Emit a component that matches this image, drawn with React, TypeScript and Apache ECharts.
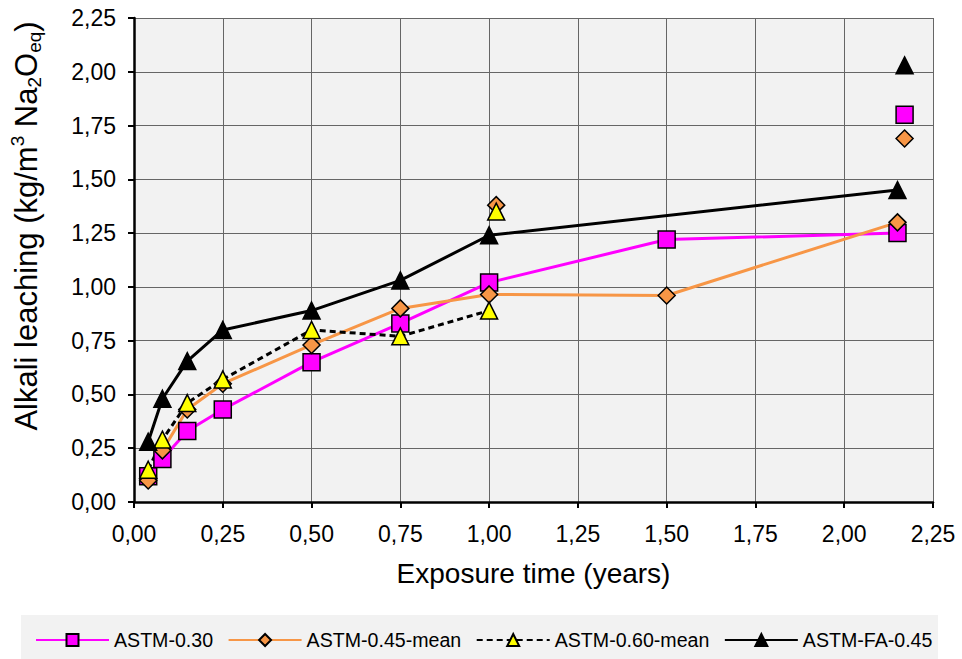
import React, { useEffect, useRef } from "react";
import * as echarts from "echarts";

// ---- Data ----
const tickLabels = ["0,00", "0,25", "0,50", "0,75", "1,00", "1,25", "1,50", "1,75", "2,00", "2,25"];

const timesA = [0.04, 0.08, 0.15, 0.25, 0.5, 0.75, 1.0, 1.5, 2.15];
const astm030 = [0.12, 0.2, 0.33, 0.43, 0.65, 0.83, 1.02, 1.22, 1.25];
const astm045 = [0.1, 0.24, 0.43, 0.55, 0.73, 0.9, 0.965, 0.96, 1.3];

const timesB = [0.04, 0.08, 0.15, 0.25, 0.5, 0.75, 1.0];
const astm060 = [0.15, 0.29, 0.46, 0.57, 0.8, 0.77, 0.89];

const timesC = [0.04, 0.08, 0.15, 0.25, 0.5, 0.75, 1.0, 2.15];
const astmFA = [0.28, 0.48, 0.655, 0.8, 0.89, 1.03, 1.24, 1.45];

// isolated (unconnected) points
const extra030X = [2.17];
const extra030Y = [1.8];
const extra045X = [1.02, 2.17];
const extra045Y = [1.38, 1.69];
const extra060X = [1.02];
const extra060Y = [1.35];
const extraFAX = [2.17];
const extraFAY = [2.03];

const names = ["ASTM-0.30", "ASTM-0.45-mean", "ASTM-0.60-mean", "ASTM-FA-0.45"];

const zip = (xs: number[], ys: number[]) => xs.map((x, i) => [x, ys[i]]);

export default function App() {
  const ref = useRef<HTMLDivElement>(null);
  useEffect(() => {
    if (!ref.current) return;
    const chart = echarts.init(ref.current, undefined, { renderer: "svg" });
    const font = "'Liberation Sans', Arial, sans-serif";
    const fmt = (v: number) => tickLabels[Math.round(v / 0.25)] ?? "";
    const border = { borderColor: "#000", borderWidth: 1.5, opacity: 1 };

    const lineSeries = (
      name: string,
      data: number[][],
      color: string,
      symbol: string,
      symbolSize: number,
      fill: string,
      lineType: any = "solid"
    ) => ({
      name,
      type: "line",
      data,
      symbol,
      symbolSize,
      lineStyle: { color, width: 3, type: lineType },
      itemStyle: { color: fill, ...border },
      emphasis: { disabled: true },
    });
    const pointSeries = (name: string, data: number[][], symbol: string, symbolSize: number, fill: string) => ({
      name,
      type: "scatter",
      data,
      symbol,
      symbolSize,
      itemStyle: { color: fill, ...border },
      emphasis: { disabled: true },
    });

    const yName = "{n|Alkali leaching (kg/m}{sup|3}{n| Na}{sub|2}{n|O}{sub|eq}{n|)}";

    chart.setOption({
      animation: false,
      textStyle: { fontFamily: font },
      grid: {
        left: 134,
        right: 29,
        top: 18,
        bottom: 157,
        show: true,
        backgroundColor: "#f2f2f2",
        borderWidth: 0,
        outerBoundsMode: "none",
        containLabel: false,
      },
      graphic: [
        {
          type: "rect",
          left: 21,
          top: 615,
          shape: { width: 917, height: 44 },
          style: { fill: "#f2f2f2" },
          z: -10,
        },
        {
          type: "text",
          x: 26,
          y: 226,
          rotation: Math.PI / 2,
          style: {
            text: yName,
            align: "center",
            verticalAlign: "middle",
            fill: "#000",
            font: `31px ${font}`,
            rich: {
              n: { fontSize: 31, fill: "#000", fontFamily: font, lineHeight: 36 },
              sup: { fontSize: 19, fill: "#000", fontFamily: font, verticalAlign: "top", lineHeight: 24 },
              sub: { fontSize: 19, fill: "#000", fontFamily: font, verticalAlign: "bottom", lineHeight: 16 },
            },
          },
        },
      ],
      legend: {
        data: names,
        left: 35,
        top: 630,
        padding: 0,
        itemWidth: 73,
        itemHeight: 15,
        itemGap: 14.5,
        textStyle: { fontSize: 19.6, color: "#000", fontFamily: font },
      },
      xAxis: {
        type: "value",
        min: 0,
        max: 2.25,
        interval: 0.25,
        name: "Exposure time (years)",
        nameLocation: "middle",
        nameGap: 57,
        nameTextStyle: { fontSize: 28, color: "#000", fontFamily: font },
        axisLine: { show: true, lineStyle: { color: "#000", width: 2.5 } },
        axisTick: { show: true, inside: false, length: 6, lineStyle: { color: "#000", width: 2 } },
        axisLabel: { fontSize: 23, color: "#000", margin: 20, formatter: fmt, fontFamily: font },
        splitLine: { show: true, lineStyle: { color: "#666", width: 1 } },
      },
      yAxis: {
        type: "value",
        min: 0,
        max: 2.25,
        interval: 0.25,
        axisLine: { show: true, lineStyle: { color: "#000", width: 2.5 } },
        axisTick: { show: true, inside: false, length: 6, lineStyle: { color: "#000", width: 2 } },
        axisLabel: { fontSize: 23, color: "#000", margin: 18, formatter: fmt, fontFamily: font },
        splitLine: { show: true, lineStyle: { color: "#666", width: 1 } },
      },
      series: [
        lineSeries(names[0], zip(timesA, astm030), "#ff00ff", "rect", 17, "#ff00ff"),
        lineSeries(names[1], zip(timesA, astm045), "#f79646", "diamond", 17, "#f79646"),
        lineSeries(names[2], zip(timesB, astm060), "#000000", "triangle", 17, "#ffff00", [6, 4]),
        lineSeries(names[3], zip(timesC, astmFA), "#000000", "triangle", 17, "#000000"),
        pointSeries(names[0], zip(extra030X, extra030Y), "rect", 17, "#ff00ff"),
        pointSeries(names[1], zip(extra045X, extra045Y), "diamond", 17, "#f79646"),
        pointSeries(names[2], zip(extra060X, extra060Y), "triangle", 17, "#ffff00"),
        pointSeries(names[3], zip(extraFAX, extraFAY), "triangle", 17, "#000000"),
      ],
    });
    return () => chart.dispose();
  }, []);
  return (
    <div
      ref={ref}
      style={{ position: "fixed", left: 0, top: 0, width: 962, height: 659, background: "#fff" }}
    />
  );
}
